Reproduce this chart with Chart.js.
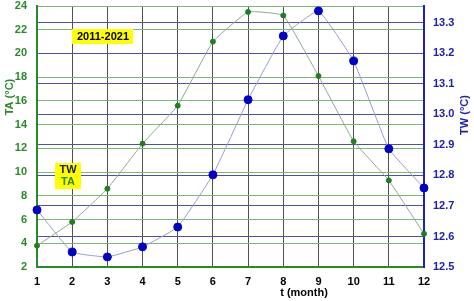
<!DOCTYPE html>
<html>
<head>
<meta charset="utf-8">
<script src="https://cdn.jsdelivr.net/npm/chart.js@4/dist/chart.umd.min.js"></script>
<style>
  html, body { margin: 0; padding: 0; background: #fff; }
  #wrap { width: 474px; height: 301px; }
</style>
</head>
<body>
<div id="wrap"><canvas id="grafico" width="474" height="301"></canvas></div>
<script>
// datos
const meses = ['1', '2', '3', '4', '5', '6', '7', '8', '9', '10', '11', '12'];
const temperaturaAire = [3.8, 5.8, 8.6, 12.4, 15.6, 21.0, 23.5, 23.2, 18.1, 12.6, 9.3, 4.8];
const temperaturaAgua = [12.687, 12.549, 12.533, 12.566, 12.631, 12.802, 13.048, 13.257, 13.339, 13.175, 12.887, 12.759];
const ticksAgua = [12.5, 12.6, 12.7, 12.8, 12.9, 13.0, 13.1, 13.2, 13.3];

const fuente = { family: 'Liberation Sans, Arial, sans-serif', size: 11, weight: 'bold' };

// titulos y recuadros amarillos
const textosExtra = {
    id: 'textosExtra',
    afterDraw(chart) {
        const ctx = chart.ctx;
        ctx.save();
        ctx.font = 'bold 11px Liberation Sans, Arial, sans-serif';
        ctx.textAlign = 'center';
        ctx.textBaseline = 'middle';

        // recuadro 2011-2021
        ctx.fillStyle = '#ffff00';
        ctx.fillRect(72, 29, 61, 15);
        ctx.fillStyle = '#000';
        ctx.fillText('2011-2021', 103, 37);

        // leyenda TW / TA
        ctx.fillStyle = '#ffff00';
        ctx.fillRect(55, 163, 26, 26);
        ctx.fillStyle = '#1a1a60';
        ctx.fillText('TW', 68, 170);
        ctx.fillStyle = '#2a8a2a';
        ctx.fillText('TA', 68, 182);

        // titulo eje x
        ctx.fillStyle = '#000';
        ctx.fillText('t (month)', 304, 293);

        // titulo eje izquierdo
        ctx.save();
        ctx.translate(10, 97);
        ctx.rotate(-Math.PI / 2);
        ctx.fillStyle = '#2a8a2a';
        ctx.fillText('TA (°C)', 0, 0);
        ctx.restore();

        // titulo eje derecho
        ctx.save();
        ctx.translate(465, 115);
        ctx.rotate(-Math.PI / 2);
        ctx.fillStyle = '#2020b0';
        ctx.fillText('TW (°C)', 0, 0);
        ctx.restore();

        ctx.restore();
    }
};

const ctx = document.getElementById('grafico').getContext('2d');
new Chart(ctx, {
    type: 'line',
    data: {
        labels: meses,
        datasets: [{
            label: 'TA',
            data: temperaturaAire,
            yAxisID: 'yTA',
            borderColor: '#8fa88f',
            borderWidth: 1,
            pointRadius: 2.5,
            pointBackgroundColor: '#1f7f1f',
            pointBorderColor: '#1f7f1f',
            tension: 0.1
        }, {
            label: 'TW',
            data: temperaturaAgua,
            yAxisID: 'yTW',
            borderColor: '#9a9ad0',
            borderWidth: 1,
            pointRadius: 4,
            pointBackgroundColor: '#0000c8',
            pointBorderColor: '#0000c8',
            tension: 0.1
        }]
    },
    options: {
        responsive: false,
        animation: false,
        layout: { padding: { top: 6, left: 0, right: 0, bottom: 0 } },
        plugins: {
            legend: { display: false },
            tooltip: { enabled: false }
        },
        scales: {
            x: {
                type: 'category',
                offset: false,
                grid: { color: '#505050', lineWidth: 1, offset: false, drawTicks: false },
                border: { color: '#2a8a2a', width: 2 },
                ticks: { color: '#000', font: fuente, padding: 8, maxRotation: 0 },
                afterFit(scale) { scale.height = 34; }
            },
            yTA: {
                position: 'left',
                min: 2,
                max: 24,
                ticks: { stepSize: 2, color: '#2a8a2a', font: fuente, padding: 10 },
                grid: { color: '#7ab87a', lineWidth: 1, drawTicks: false },
                border: { color: '#2a8a2a', width: 2 },
                afterFit(scale) {
                    scale.width = 37;
                    scale.paddingTop = 0;
                    scale.paddingBottom = 0;
                }
            },
            yTW: {
                position: 'right',
                min: 12.5,
                max: 13.355,
                afterBuildTicks(scale) {
                    scale.ticks = ticksAgua.map(v => ({ value: v }));
                },
                ticks: {
                    color: '#2020b0',
                    font: fuente,
                    padding: 9,
                    callback: v => Number(v).toFixed(1)
                },
                grid: { color: '#5050a8', lineWidth: 1, drawTicks: false },
                border: { color: '#2020c0', width: 2 },
                afterFit(scale) {
                    scale.width = 50;
                    scale.paddingTop = 0;
                    scale.paddingBottom = 0;
                }
            }
        }
    },
    plugins: [textosExtra]
});
</script>
</body>
</html>
